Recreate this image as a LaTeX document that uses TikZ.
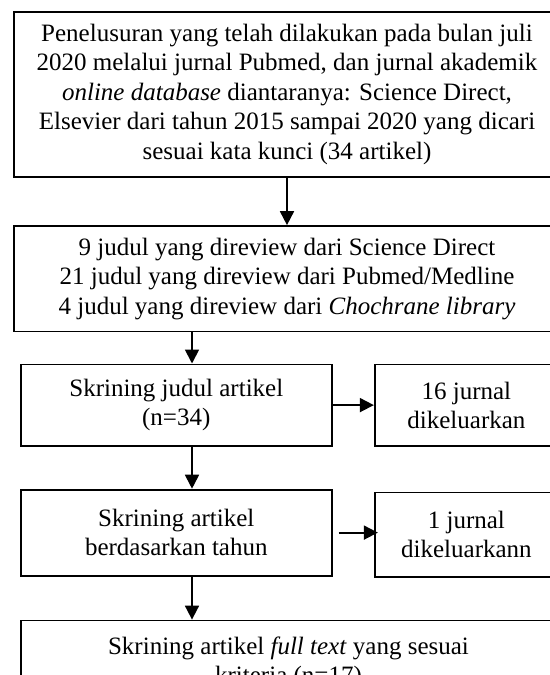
\documentclass[tikz,border=0pt]{standalone}
\usepackage{fontspec}
\setmainfont{Liberation Serif}
\usetikzlibrary{arrows.meta}

\begin{document}
\begin{tikzpicture}[x=0.5pt, y=-0.5pt,
		box/.style={draw, line width=0.9pt, align=center, inner sep=0pt,
			font={\fontsize{12.5pt}{14.75pt}\selectfont}},
		arr/.style={-{Triangle[length=7pt,width=7pt]}, line width=0.9pt}]
	\useasboundingbox (0,0) rectangle (550,675);

	% the boxes of the main column
	\node[box, minimum width=273pt, minimum height=82.7pt] (search) at (287,94.3)
		{Penelusuran yang telah dilakukan pada bulan juli\\
		 2020 melalui jurnal Pubmed, dan jurnal akademik\\
		 \textit{online database} diantaranya: Science Direct,\\
		 Elsevier dari tahun 2015 sampai 2020 yang dicari\\
		 sesuai kata kunci (34 artikel)};
	\node[box, minimum width=273pt, minimum height=52.75pt] (review) at (287,278.8)
		{9 judul yang direview dari Science Direct\\
		 21 judul yang direview dari Pubmed/Medline\\
		 4 judul yang direview dari \textit{Chochrane library}};
	\node[box, minimum width=155.3pt, minimum height=40.7pt] (title) at (176.3,405.1)
		{Skrining judul artikel\\(n=34)};
	\node[box, minimum width=155.3pt, minimum height=43pt] (year) at (176.3,532.6)
		{Skrining artikel\\berdasarkan tahun};
	\node[box, minimum width=267.5pt, minimum height=42.5pt] (full) at (288.5,663)
		{Skrining artikel \textit{full text} yang sesuai\\kriteria (n=17)};

	% the boxes on the right
	\node[box, minimum width=91.65pt, minimum height=40.8pt] (out1) at (466.4,405.2)
		{16 jurnal\\dikeluarkan};
	\node[box, minimum width=91.65pt, minimum height=42.1pt] (out2) at (466.4,534.6)
		{1 jurnal\\dikeluarkann};

	% draw the arrows
	\coordinate (spine) at (192,0);
	\draw[arr] (search) -- (review);
	\draw[arr] (review.south -| spine) -- (title.north -| spine);
	\draw[arr] (title.south -| spine) -- (year.north -| spine);
	\draw[arr] (year.south -| spine) -- (full.north -| spine);
	\draw[arr] (title.east) -- (title.east -| out1.west);
	\draw[arr, shorten <=3pt, shorten >=-2pt] (year.east) -- (year.east -| out2.west);

\end{tikzpicture}
\end{document}
